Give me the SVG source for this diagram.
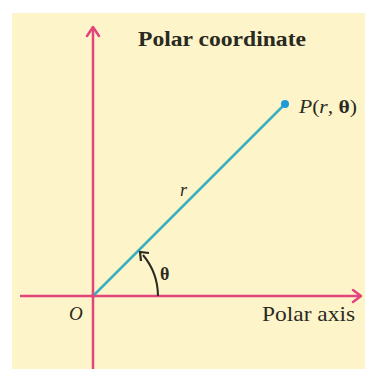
<svg xmlns="http://www.w3.org/2000/svg" width="365" height="369" viewBox="0 0 365 369">
<style>
.ax{stroke:#e2457c;stroke-width:2.5;fill:none}
.hd{stroke:#e2457c;stroke-width:2.5;fill:none;stroke-linecap:round;stroke-linejoin:round}
.t{font-family:"Liberation Serif","Times New Roman",serif;fill:#2a2a22}
</style>
<rect width="365" height="369" fill="#ffffff"/>
<rect x="12" y="13" width="353" height="356" fill="#fdf5c9"/>
<g id="connectors">
<line class="ax" x1="93" y1="28" x2="93" y2="369"/>
<polyline class="hd" points="87,36 93,27 99,36"/>
<line class="ax" x1="20" y1="296" x2="360" y2="296"/>
<polyline class="hd" points="353,290 361,296 353,302"/>
<line x1="93" y1="296" x2="285" y2="104" stroke="#3aafbf" stroke-width="2.5"/>
<path d="M158,296 A65,65 0 0 0 143,255" fill="none" stroke="#2a2a22" stroke-width="2"/>
<polyline points="141,261 140,252 149,253" fill="none" stroke="#2a2a22" stroke-width="2.2" stroke-linejoin="miter"/>
</g>
<g id="origin">
<circle cx="93" cy="296" r="2" fill="#e2457c"/>
<text class="t" x="69" y="320" font-size="19" font-style="italic">O</text>
</g>
<g id="point-P">
<circle cx="285" cy="104" r="4" fill="#1f9ad6"/>
<text class="t" x="299" y="113" font-size="19" textLength="58" lengthAdjust="spacingAndGlyphs"><tspan font-style="italic">P</tspan>(<tspan font-style="italic">r</tspan>, <tspan font-weight="bold">θ</tspan>)</text>
</g>
<g id="labels">
<text class="t" x="138" y="46" font-size="20" font-weight="bold" textLength="168" lengthAdjust="spacingAndGlyphs">Polar coordinate</text>
<text class="t" x="180" y="196" font-size="18" font-style="italic">r</text>
<text class="t" x="160" y="280" font-size="18" font-weight="bold">θ</text>
<text class="t" x="262" y="321" font-size="21" textLength="93" lengthAdjust="spacingAndGlyphs">Polar axis</text>
</g>
</svg>
